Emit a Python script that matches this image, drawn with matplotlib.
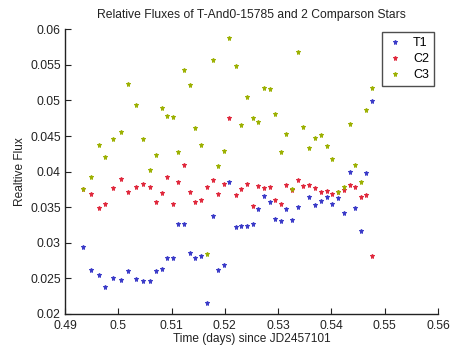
import numpy as np
import matplotlib
matplotlib.use("Agg")
import matplotlib.pyplot as plt

plt.rcParams['font.family'] = ['Liberation Sans', 'DejaVu Sans']

# Observation times (days since JD2457101)
times = [0.4933, 0.4949, 0.4963, 0.4976, 0.4991, 0.5005, 0.5019, 0.5033, 0.5047, 0.5060,
         0.5071, 0.5082, 0.5092, 0.5103, 0.5112, 0.5123, 0.5135, 0.5144, 0.5156, 0.5167,
         0.5177, 0.5188, 0.5198, 0.5208, 0.5220, 0.5230, 0.5241, 0.5252, 0.5262, 0.5273,
         0.5284, 0.5294, 0.5305, 0.5315, 0.5326, 0.5337, 0.5347, 0.5357, 0.5370, 0.5380,
         0.5391, 0.5401, 0.5412, 0.5423, 0.5434, 0.5444, 0.5455, 0.5465, 0.5476]

# Relative fluxes: target T1 and comparison stars C2, C3
flux_t1 = [0.0294, 0.0262, 0.0255, 0.0238, 0.0251, 0.0248, 0.0260, 0.0249, 0.0246, 0.0247,
           0.0260, 0.0263, 0.0278, 0.0279, 0.0326, 0.0326, 0.0286, 0.0279, 0.0282, 0.0215,
           0.0338, 0.0262, 0.0269, 0.0386, 0.0322, 0.0323, 0.0323, 0.0327, 0.0348, 0.0366,
           0.0357, 0.0334, 0.0330, 0.0347, 0.0332, 0.0350, np.nan, 0.0365, 0.0353, 0.0359,
           0.0364, 0.0355, 0.0363, 0.0342, 0.0400, 0.0349, 0.0317, 0.0398, 0.0499]

flux_c2 = [0.0375, 0.0369, 0.0349, 0.0355, 0.0377, 0.0389, 0.0372, 0.0378, 0.0382, 0.0378,
           0.0357, 0.0370, 0.0392, 0.0355, 0.0385, 0.0409, 0.0372, 0.0358, 0.0360, 0.0378,
           0.0388, 0.0369, 0.0383, 0.0476, 0.0367, 0.0375, 0.0383, 0.0352, 0.0380, 0.0377,
           0.0379, 0.0360, 0.0355, 0.0381, 0.0374, 0.0388, 0.0380, 0.0381, 0.0377, 0.0372,
           0.0373, 0.0369, 0.0371, 0.0374, 0.0381, 0.0378, 0.0365, 0.0367, 0.0282]

flux_c3 = [0.0375, 0.0393, 0.0438, 0.0421, 0.0446, 0.0456, 0.0523, 0.0494, 0.0446, 0.0402,
           0.0423, 0.0490, 0.0478, 0.0477, 0.0428, 0.0543, 0.0522, 0.0462, 0.0437, 0.0285,
           0.0557, 0.0408, 0.0429, 0.0588, 0.0548, 0.0466, 0.0505, 0.0475, 0.0470, 0.0518,
           0.0516, 0.0481, 0.0427, 0.0453, 0.0375, 0.0568, 0.0463, 0.0433, 0.0447, 0.0452,
           0.0436, 0.0418, 0.0372, 0.0378, 0.0467, 0.0409, 0.0385, 0.0486, 0.0518]

series_names = ['T1', 'C2', 'C3']
series_colors = ['#3a3ac8', '#e0283c', '#9cb000']

x_ticks = [0.49, 0.5, 0.51, 0.52, 0.53, 0.54, 0.55, 0.56]
x_ticklabels = ['0.49', '0.5', '0.51', '0.52', '0.53', '0.54', '0.55', '0.56']
y_ticks = [0.02, 0.025, 0.03, 0.035, 0.04, 0.045, 0.05, 0.055, 0.06]
y_ticklabels = ['0.02', '0.025', '0.03', '0.035', '0.04', '0.045', '0.05', '0.055', '0.06']

fig = plt.figure(figsize=(4.5, 3.49), dpi=100)
ax = fig.add_axes([0.1444, 0.1003, 0.829, 0.8157])

for vals, name, col in zip([flux_t1, flux_c2, flux_c3], series_names, series_colors):
    ax.plot(times, vals, linestyle='none', marker='*', markersize=3.6,
            color=col, markeredgewidth=0.7, label=name)

ax.set_xlim(0.49, 0.56)
ax.set_ylim(0.02, 0.06)
ax.set_xticks(x_ticks)
ax.set_xticklabels(x_ticklabels)
ax.set_yticks(y_ticks)
ax.set_yticklabels(y_ticklabels)

for side in ['top', 'right']:
    ax.spines[side].set_visible(False)
for side in ['left', 'bottom']:
    ax.spines[side].set_linewidth(1.0)
    ax.spines[side].set_color('#222222')

ax.tick_params(direction='in', length=4, width=0.8, labelsize=8.8, colors='#222222')
ax.tick_params(axis='y', pad=3)
ax.tick_params(axis='x', pad=4)

ax.set_title('Relative Fluxes of T-And0-15785 and 2 Comparson Stars', fontsize=8.7,
             color='#222222', pad=8)
ax.set_xlabel('Time (days) since JD2457101', fontsize=8.6, color='#222222', labelpad=1)
ax.set_ylabel('Realtive Flux', fontsize=8.6, color='#222222', labelpad=3)

leg = ax.legend(loc='upper right', bbox_to_anchor=(0.989, 0.989), borderaxespad=0,
                fontsize=9, frameon=True, fancybox=False, edgecolor='#222222',
                handletextpad=0.8, handlelength=1.3, borderpad=0.4,
                labelspacing=0.32)
leg.get_frame().set_linewidth(1.0)

fig.savefig('out.png', dpi=100)
